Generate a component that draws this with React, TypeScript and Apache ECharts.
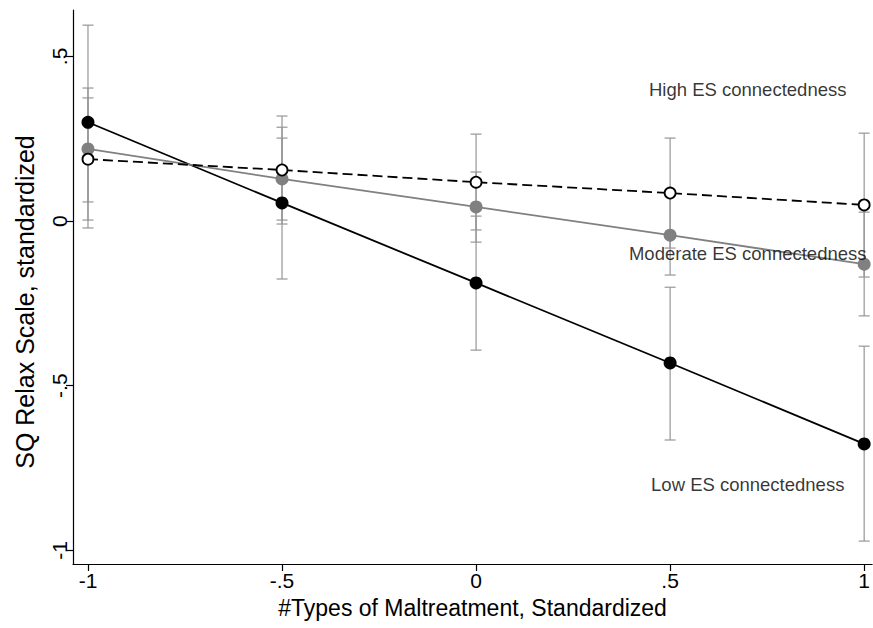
import React, { useEffect, useRef } from "react";
import * as echarts from "echarts";

const xValues = [-1, -0.5, 0, 0.5, 1];
const tickValues = [-1, -0.5, 0, 0.5, 1];
const yTickValues = [-1, -0.5, 0, 0.5];

const lowMean = [0.3, 0.055, -0.188, -0.431, -0.677];
const lowLo = [0.003, -0.176, -0.392, -0.665, -0.972];
const lowHi = [0.595, 0.285, 0.015, -0.201, -0.38];

const modMean = [0.219, 0.128, 0.043, -0.043, -0.131];
const modLo = [0.058, 0.003, -0.064, -0.164, -0.288];
const modHi = [0.374, 0.252, 0.149, 0.079, 0.027];

const highMean = [0.188, 0.155, 0.118, 0.085, 0.049];
const highLo = [-0.021, -0.009, -0.027, -0.082, -0.17];
const highHi = [0.404, 0.319, 0.264, 0.252, 0.267];

const annotations = [
  { x: 0.7, y: 0.4, text: "High ES connectedness" },
  { x: 0.7, y: -0.1, text: "Moderate ES connectedness" },
  { x: 0.7, y: -0.8, text: "Low ES connectedness" },
];

const xTitle = "#Types of Maltreatment, Standardized";
const yTitle = "SQ Relax Scale, standardized";

const FONT = "'Liberation Sans', Arial, sans-serif";

function fmt(v: number): string {
  if (v === 0) return "0";
  const s = String(v);
  return s.replace(/^(-?)0\./, "$1.");
}

export default function App() {
  const ref = useRef<HTMLDivElement>(null);
  useEffect(() => {
    if (!ref.current) return;
    const chart = echarts.init(ref.current, null, { renderer: "svg" });

    const ciData: number[][] = [];
    [ [lowLo, lowHi], [modLo, modHi], [highLo, highHi] ].forEach(([lo, hi]) => {
      xValues.forEach((x, i) => ciData.push([x, lo[i], hi[i]]));
    });

    const option: any = {
      animation: false,
      backgroundColor: "#ffffff",
      textStyle: { fontFamily: FONT },
      grid: { left: 73, right: 0, top: 10, bottom: 64, containLabel: false },
      graphic: [
        {
          type: "text",
          x: 25,
          y: 302,
          rotation: Math.PI / 2,
          style: {
            text: yTitle,
            fontSize: 25,
            fill: "#000",
            fontFamily: FONT,
            align: "center",
            verticalAlign: "middle",
          },
        },
      ],
      xAxis: {
        type: "value",
        min: -1.0386,
        max: 1.0206,
        name: xTitle,
        nameLocation: "middle",
        nameGap: 32,
        nameTextStyle: { fontSize: 23, color: "#000", fontFamily: FONT },
        axisLine: { show: true, onZero: false, lineStyle: { color: "#000", width: 1.2 } },
        axisTick: { show: true, length: 7, lineStyle: { color: "#000", width: 1.2 }, customValues: tickValues },
        axisLabel: {
          fontSize: 21,
          color: "#000",
          margin: 6,
          customValues: tickValues,
          formatter: (v: number) => fmt(v),
        },
        splitLine: { show: false },
      },
      yAxis: {
        type: "value",
        min: -1.0416,
        max: 0.641,
        axisLine: { show: true, onZero: false, lineStyle: { color: "#000", width: 1.2 } },
        axisTick: { show: true, length: 7, lineStyle: { color: "#000", width: 1.2 }, customValues: yTickValues },
        axisLabel: {
          fontSize: 21,
          color: "#000",
          rotate: 90,
          margin: 3,
          customValues: yTickValues,
          formatter: (v: number) => fmt(v),
        },
        splitLine: { show: false },
      },
      series: [
        {
          type: "custom",
          z: 1,
          silent: true,
          data: ciData,
          renderItem: (params: any, api: any) => {
            const x = api.value(0);
            const lo = api.coord([x, api.value(1)]);
            const hi = api.coord([x, api.value(2)]);
            const w = 5.5;
            const style = { stroke: "#969696", lineWidth: 1.2, fill: "none" };
            return {
              type: "group",
              children: [
                { type: "line", shape: { x1: lo[0], y1: lo[1], x2: hi[0], y2: hi[1] }, style },
                { type: "line", shape: { x1: lo[0] - w, y1: lo[1], x2: lo[0] + w, y2: lo[1] }, style },
                { type: "line", shape: { x1: hi[0] - w, y1: hi[1], x2: hi[0] + w, y2: hi[1] }, style },
              ],
            };
          },
        },
        {
          name: "Low",
          type: "line",
          z: 3,
          data: xValues.map((x, i) => [x, lowMean[i]]),
          symbol: "circle",
          symbolSize: 13,
          lineStyle: { color: "#000", width: 1.8 },
          itemStyle: { color: "#000" },
        },
        {
          name: "Moderate",
          type: "line",
          z: 3,
          data: xValues.map((x, i) => [x, modMean[i]]),
          symbol: "circle",
          symbolSize: 13,
          lineStyle: { color: "#808080", width: 1.8 },
          itemStyle: { color: "#808080" },
        },
        {
          name: "High",
          type: "line",
          z: 4,
          data: xValues.map((x, i) => [x, highMean[i]]),
          symbol: "circle",
          symbolSize: 11,
          lineStyle: { color: "#000", width: 1.8, type: [10, 5] },
          itemStyle: { color: "#fff", borderColor: "#000", borderWidth: 1.8 },
        },
        {
          type: "scatter",
          z: 5,
          silent: true,
          symbolSize: 0,
          data: annotations.map((a) => ({ value: [a.x, a.y], name: a.text })),
          label: {
            show: true,
            position: "inside",
            formatter: (p: any) => p.name,
            fontSize: 18.5,
            color: "#000",
            textBorderWidth: 0,
            fontFamily: FONT,
          },
        },
      ],
    };
    chart.setOption(option);
    return () => chart.dispose();
  }, []);
  return (
    <div
      ref={ref}
      style={{ position: "absolute", left: 0, top: 0, width: 873, height: 628, background: "#fff" }}
    />
  );
}
